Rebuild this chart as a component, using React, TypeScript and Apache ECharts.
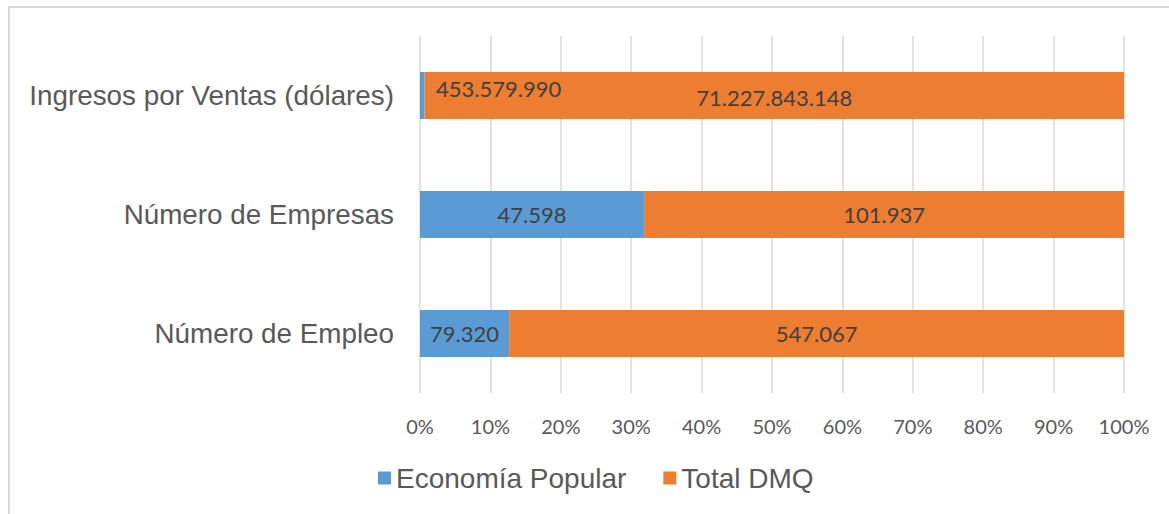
import React, { useEffect, useRef } from "react";
import * as echarts from "echarts";

const categories = ["Ingresos por Ventas (dólares)", "Número de Empresas", "Número de Empleo"];
const seriesNames = ["Economía Popular", "Total DMQ"];
const economiaPopular = [453579990, 47598, 79320];
const totalDMQ = [71227843148, 101937, 547067];
const axisMin = 0;
const axisMax = 100;
const axisStep = 10;

const fmt = (n: number) => String(n).replace(/\B(?=(\d{3})+(?!\d))/g, ".");

export default function App() {
  const ref = useRef<HTMLDivElement>(null);
  useEffect(() => {
    if (!ref.current) return;
    const chart = echarts.init(ref.current, null, { renderer: "svg" });
    const totals = economiaPopular.map((v, i) => v + totalDMQ[i]);
    const labelFont = { fontFamily: "Lato", fontSize: 22, color: "#404040" };
    const blueData = economiaPopular.map((v, i) => {
      const item: any = { value: (v / totals[i]) * 100, raw: v };
      if (i === 0) {
        item.label = { position: [16, 16], align: "left", verticalAlign: "middle" };
      }
      return item;
    });
    const orangeData = totalDMQ.map((v, i) => {
      const item: any = { value: (v / totals[i]) * 100, raw: v };
      if (i === 0) item.label = { offset: [0, 2] };
      return item;
    });
    chart.setOption({
      animation: false,
      color: ["#5B9BD5", "#ED7D31"],
      graphic: [
        { type: "line", shape: { x1: 8, y1: 7, x2: 1169, y2: 7 }, style: { stroke: "#d9d9d9", lineWidth: 2 } },
        { type: "line", shape: { x1: 9, y1: 6, x2: 9, y2: 514 }, style: { stroke: "#d9d9d9", lineWidth: 2 } },
      ],
      grid: { left: 420, right: 45, top: 36, bottom: 121, containLabel: false },
      legend: {
        data: seriesNames,
        left: 378,
        top: 464,
        padding: 0,
        icon: "rect",
        itemWidth: 13,
        itemHeight: 13,
        itemGap: 37,
        textStyle: { fontFamily: "Liberation Sans", fontSize: 28, color: "#595959", lineHeight: 28 },
      },
      xAxis: {
        type: "value",
        min: axisMin,
        max: axisMax,
        interval: axisStep,
        axisLine: { show: false },
        axisTick: { show: false },
        splitLine: { show: true, lineStyle: { color: "#d9d9d9", width: 1.5 } },
        axisLabel: {
          formatter: "{value}%",
          fontFamily: "Lato",
          fontSize: 20,
          color: "#595959",
          margin: 23,
        },
      },
      yAxis: {
        type: "category",
        data: categories,
        inverse: true,
        axisLine: { show: false },
        axisTick: { show: false },
        splitLine: { show: false },
        axisLabel: {
          fontFamily: "Liberation Sans",
          fontSize: 27.8,
          color: "#595959",
          margin: 26,
        },
      },
      series: [
        {
          name: seriesNames[0],
          type: "bar",
          stack: "total",
          barWidth: 47,
          data: blueData,
          label: {
            show: true,
            position: "inside",
            ...labelFont,
            formatter: (p: any) => fmt(p.data.raw),
          },
        },
        {
          name: seriesNames[1],
          type: "bar",
          stack: "total",
          barWidth: 47,
          data: orangeData,
          label: {
            show: true,
            position: "inside",
            ...labelFont,
            formatter: (p: any) => fmt(p.data.raw),
          },
        },
      ],
    });
    return () => chart.dispose();
  }, []);
  return (
    <div
      ref={ref}
      style={{ position: "fixed", left: 0, top: 0, width: 1169, height: 514, background: "#fff" }}
    />
  );
}
